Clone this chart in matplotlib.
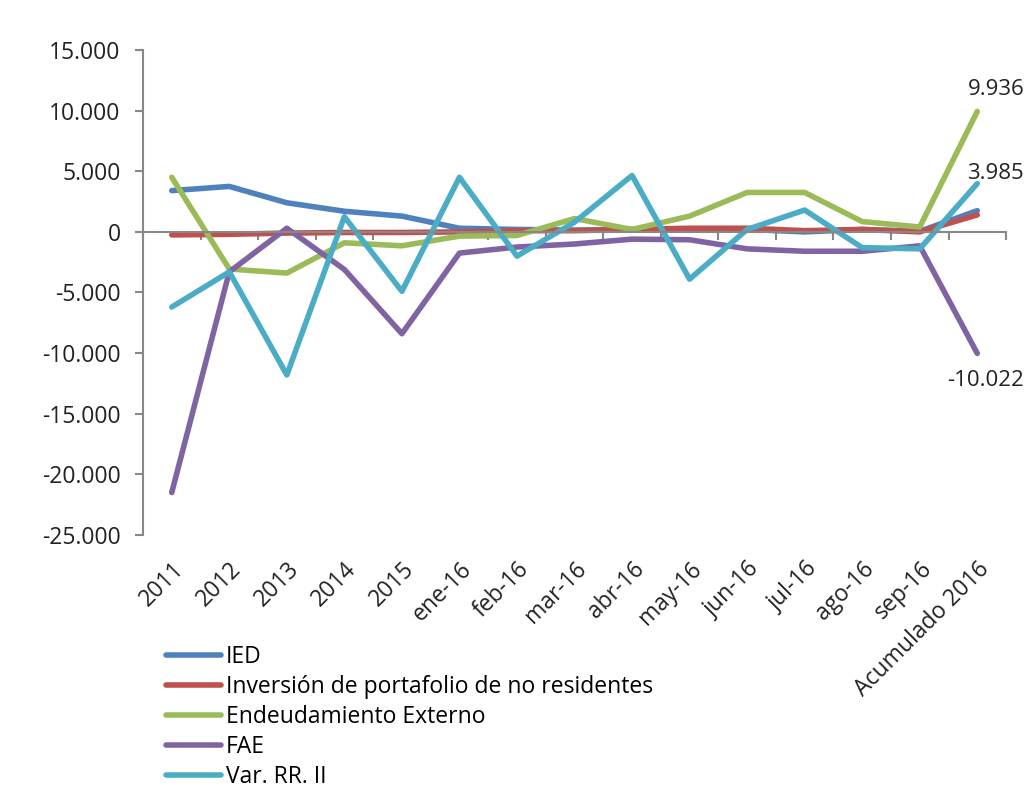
import numpy as np
import matplotlib
matplotlib.use('Agg')
import matplotlib.pyplot as plt
from matplotlib.ticker import FuncFormatter

plt.rcParams['font.family'] = ['Open Sans', 'DejaVu Sans']

categorias = ['2011', '2012', '2013', '2014', '2015', 'ene-16', 'feb-16', 'mar-16',
              'abr-16', 'may-16', 'jun-16', 'jul-16', 'ago-16', 'sep-16', 'Acumulado 2016']

ied = [3400, 3750, 2400, 1700, 1300, 300, 200, 150, 200, 250, 200, 0, 200, 50, 1750]
portafolio = [-250, -200, -100, -50, -50, 0, 100, 100, 200, 300, 300, 100, 200, 0, 1400]
endeudamiento = [4500, -3060, -3400, -900, -1150, -350, -300, 1100, 200, 1300, 3250, 3250, 850, 400, 9936]
fae = [-21500, -3300, 300, -3100, -8400, -1750, -1250, -1000, -600, -650, -1400, -1600, -1600, -1150, -10022]
var_rrii = [-6200, -3300, -11800, 1250, -4900, 4500, -2000, 800, 4650, -3900, 200, 1800, -1300, -1400, 3985]

series = [
    ('IED', ied, '#4F81BD'),
    ('Inversión de portafolio de no residentes', portafolio, '#C0504D'),
    ('Endeudamiento Externo', endeudamiento, '#9BBB59'),
    ('FAE', fae, '#8064A2'),
    ('Var. RR. II', var_rrii, '#4BACC6'),
]

fig = plt.figure(figsize=(10.25, 7.9), dpi=100)
ax = fig.add_axes([0.1395, 0.3228, 0.842, 0.6139])

x = np.arange(len(categorias))
for nombre, vals, color in series:
    ax.plot(x, vals, color=color, linewidth=4, label=nombre, solid_capstyle='round',
            solid_joinstyle='round')

# etiquetas del último punto
ax.annotate('9.936', (x[-1], endeudamiento[-1]), xytext=(-7, 8), textcoords='offset points',
            fontsize=16, ha='left', va='bottom', color='#222222', annotation_clip=False)
ax.annotate('3.985', (x[-1], var_rrii[-1]), xytext=(-7, 0), textcoords='offset points',
            fontsize=16, ha='left', va='bottom', color='#222222', annotation_clip=False)
ax.annotate('-10.022', (x[-1], fae[-1]), xytext=(-22, -12), textcoords='offset points',
            fontsize=16, ha='left', va='top', color='#222222', annotation_clip=False)

ax.set_xlim(-0.5, len(categorias) - 0.5)
ax.set_ylim(-25000, 15000)
ax.set_yticks(np.arange(-25000, 15001, 5000))
ax.yaxis.set_major_formatter(FuncFormatter(lambda v, p: f'{int(v):,}'.replace(',', '.')))

for s in ['top', 'right']:
    ax.spines[s].set_visible(False)
ax.spines['left'].set_color('#888888')
ax.spines['left'].set_linewidth(1.5)
ax.spines['bottom'].set_position(('data', 0))
ax.spines['bottom'].set_color('#888888')
ax.spines['bottom'].set_linewidth(1.5)

ax.set_xticks(x)
ax.set_xticks(np.arange(-0.5, len(categorias)), minor=True)
ax.tick_params(axis='x', which='major', length=0, labelbottom=False)
ax.tick_params(axis='x', which='minor', length=6, width=1.5, color='#888888', direction='out')
ax.tick_params(axis='y', length=6, width=1.5, color='#888888', labelsize=16.5,
               labelcolor='#222222', pad=10)

sec = ax.secondary_xaxis('bottom')
sec.set_xticks(x)
sec.set_xticklabels(categorias, rotation=45, ha='right', rotation_mode='anchor',
                    fontsize=16.5, color='#222222')
sec.tick_params(length=0, pad=16)
sec.spines['bottom'].set_visible(False)

fig.legend(loc='upper left', bbox_to_anchor=(0.153, 0.195), frameon=False, fontsize=16.5,
           handlelength=2.4, handletextpad=0.2, labelspacing=0.26, borderaxespad=0)

fig.savefig('out.png', dpi=100)
